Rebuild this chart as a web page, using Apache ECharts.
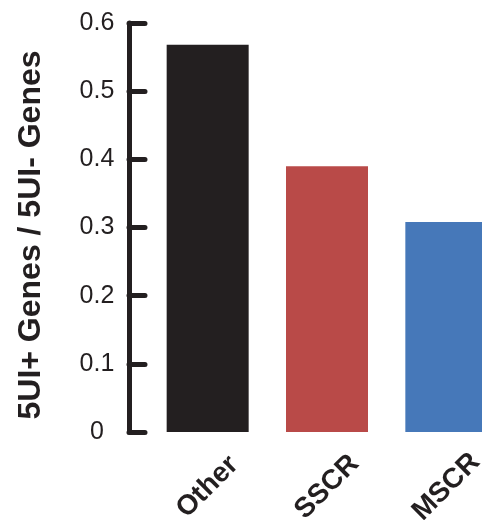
<!DOCTYPE html>
<html>
<head>
<meta charset="utf-8">
<script src="https://cdn.jsdelivr.net/npm/echarts@6/dist/echarts.min.js"></script>
<style>
html,body{margin:0;padding:0;background:#fff;}
#chart{width:482px;height:520px;}
</style>
</head>
<body>
<div id="chart"></div>
<script>
var categories = ['Other', 'SSCR', 'MSCR'];
var values = [0.568, 0.390, 0.308];
var barColors = ['#231f20', '#b94a48', '#4678b9'];
var yTicks = [0, 0.1, 0.2, 0.3, 0.4, 0.5, 0.6];
var yAxisTitle = '5UI+ Genes / 5UI- Genes';

var chart = echarts.init(document.getElementById('chart'), null, {renderer: 'canvas'});
var font = '"Liberation Sans", Arial, Helvetica, sans-serif';
chart.setOption({
  animation: false,
  backgroundColor: '#ffffff',
  grid: {left: 148, top: 23, width: 358, height: 409, containLabel: false, outerBoundsMode: 'none'},
  xAxis: {
    type: 'category',
    data: categories,
    axisLine: {show: false},
    axisTick: {show: false},
    axisLabel: {
      rotate: 45,
      align: 'center',
      verticalAlign: 'middle',
      margin: 55,
      fontFamily: font,
      fontWeight: 'bold',
      fontSize: 28,
      color: '#231f20'
    }
  },
  yAxis: {
    type: 'value',
    min: 0,
    max: 0.6,
    interval: 0.1,
    offset: 19,
    splitLine: {show: false},
    axisLine: {show: true, lineStyle: {color: '#231f20', width: 5, cap: 'round'}},
    axisTick: {show: true, inside: true, length: 16, lineStyle: {color: '#231f20', width: 5, cap: 'round'}},
    axisLabel: {
      margin: 32,
      align: 'center',
      verticalAlign: 'middle',
      padding: [7, 0, 0, 0],
      fontFamily: font,
      fontSize: 25,
      color: '#231f20',
      formatter: function (v) {
        var i = yTicks.indexOf(Math.round(v * 10) / 10);
        if (i < 0) return '';
        return v === 0 ? '0' : yTicks[i].toFixed(1);
      }
    },
    name: yAxisTitle,
    nameLocation: 'middle',
    nameRotate: 90,
    nameGap: 82,
    nameTextStyle: {
      fontFamily: font,
      fontWeight: 'bold',
      fontSize: 32,
      color: '#231f20',
      padding: [0, 15, 0, 0]
    }
  },
  series: [{
    type: 'bar',
    barWidth: 82,
    data: values.map(function (v, i) {
      return {value: v, itemStyle: {color: barColors[i]}};
    })
  }]
});
</script>
</body>
</html>
